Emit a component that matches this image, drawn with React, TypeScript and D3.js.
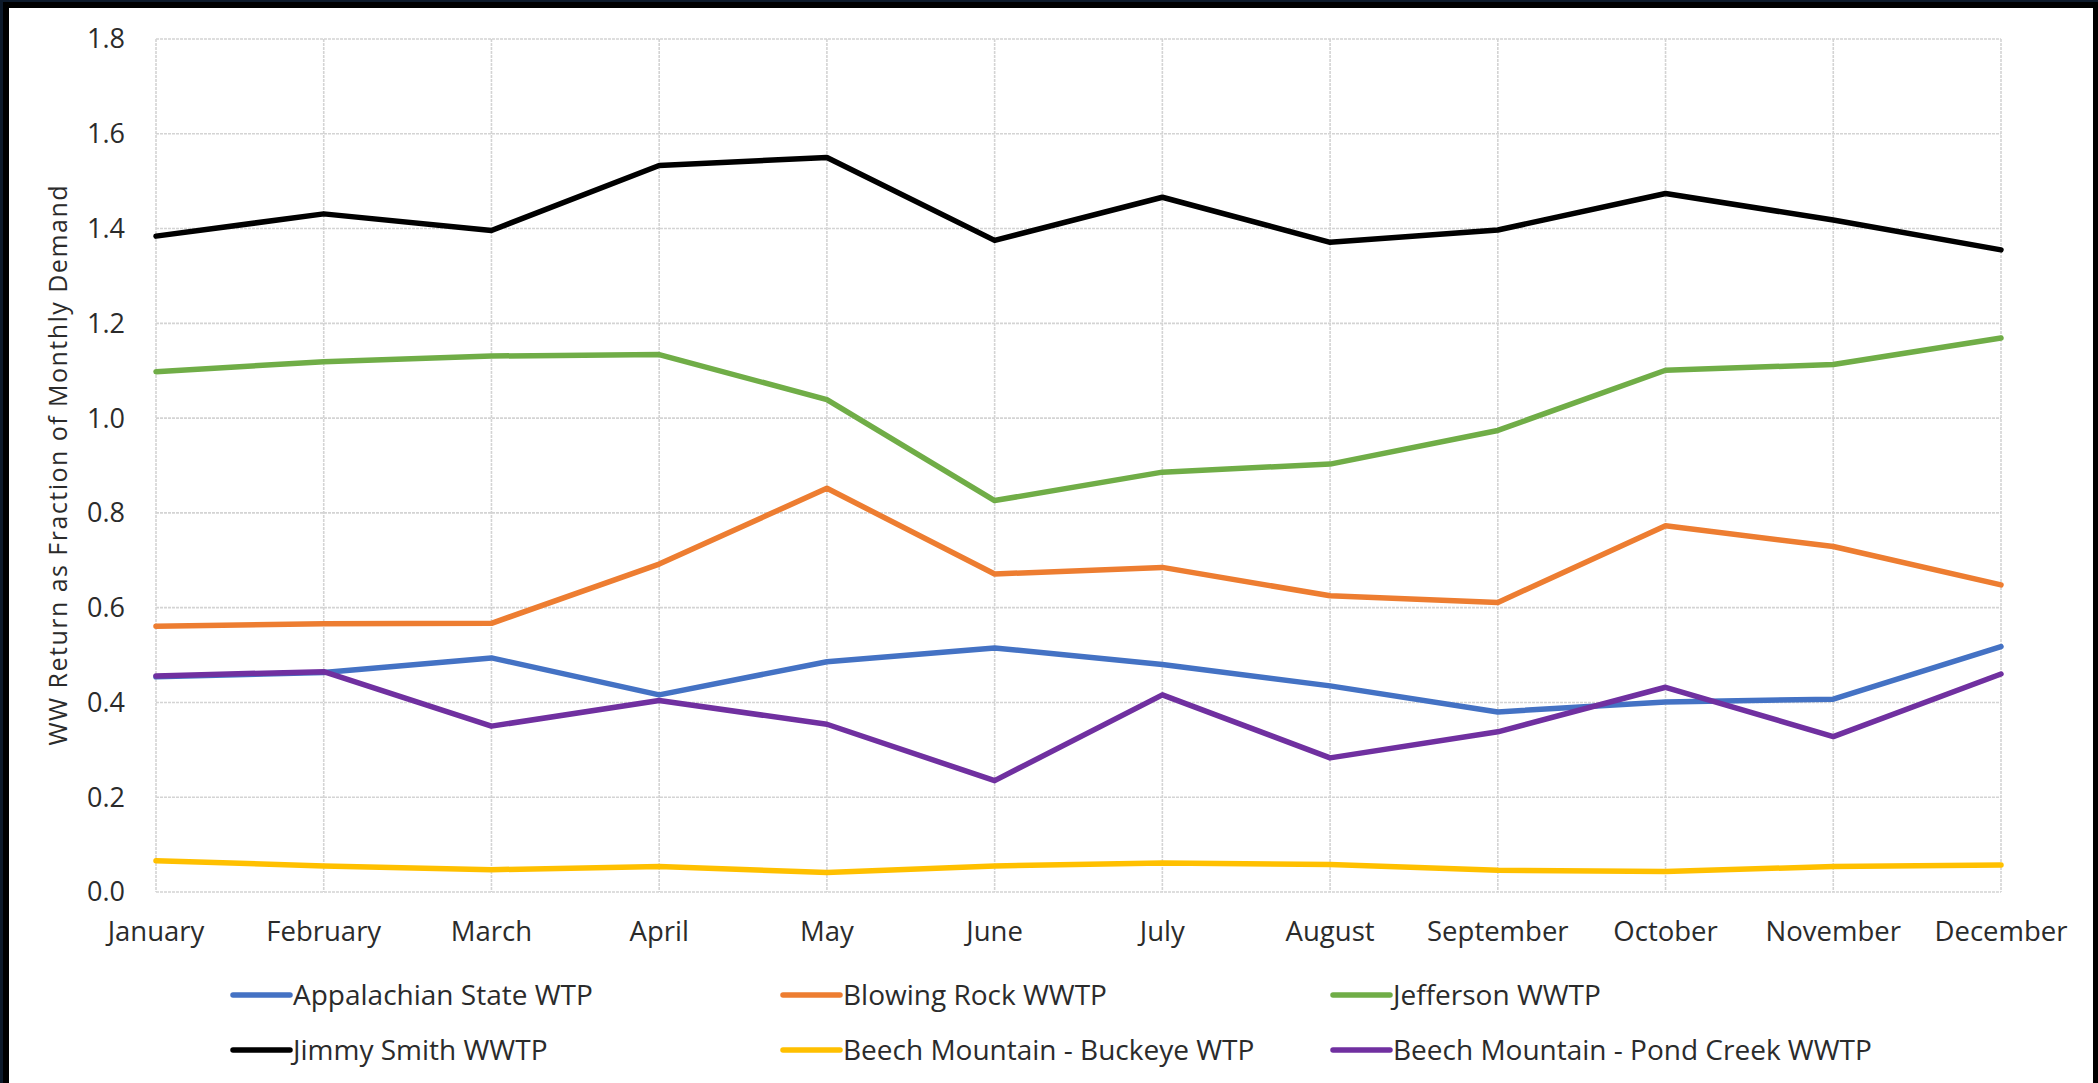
import React, { useEffect } from "react";
import * as d3 from "d3";

// Month categories along the x axis
const months = [
  "January", "February", "March", "April", "May", "June",
  "July", "August", "September", "October", "November", "December",
];

// Y axis tick values
const yTicks = [0, 0.2, 0.4, 0.6, 0.8, 1.0, 1.2, 1.4, 1.6, 1.8];

// Monthly wastewater return as a fraction of monthly demand
const appalachianState = [0.454, 0.463, 0.494, 0.416, 0.486, 0.515, 0.480, 0.435, 0.380, 0.401, 0.407, 0.518];
const blowingRock = [0.561, 0.566, 0.567, 0.692, 0.852, 0.671, 0.685, 0.625, 0.611, 0.773, 0.729, 0.648];
const jefferson = [1.098, 1.119, 1.131, 1.134, 1.039, 0.826, 0.886, 0.903, 0.974, 1.101, 1.113, 1.169];
const jimmySmith = [1.384, 1.431, 1.396, 1.533, 1.550, 1.375, 1.466, 1.371, 1.397, 1.474, 1.418, 1.355];
const beechBuckeye = [0.066, 0.055, 0.047, 0.054, 0.041, 0.055, 0.061, 0.058, 0.046, 0.043, 0.054, 0.057];
const beechPondCreek = [0.456, 0.465, 0.350, 0.404, 0.354, 0.235, 0.416, 0.283, 0.338, 0.432, 0.328, 0.460];

// Series names and colours, in drawing order
const seriesNames = [
  "Appalachian State WTP",
  "Blowing Rock WWTP",
  "Jefferson WWTP",
  "Jimmy Smith WWTP",
  "Beech Mountain - Buckeye WTP",
  "Beech Mountain - Pond Creek WWTP",
];
const seriesColors = ["#4472C4", "#ED7D31", "#70AD47", "#000000", "#FFC000", "#7030A0"];
const seriesValues = [appalachianState, blowingRock, jefferson, jimmySmith, beechBuckeye, beechPondCreek];

const W = 2098;
const H = 1083;
const plot = { left: 156, right: 2001, top: 39, bottom: 892 };
const FONT = "'Open Sans', 'Liberation Sans', sans-serif";
const TEXT = "#2b2b2b";
const GRID = "#d4d4d4";

export default function App() {
  useEffect(() => {
    document.body.style.margin = "0";
    document.body.style.overflow = "hidden";
  }, []);

  const x = d3.scalePoint<string>().domain(months).range([plot.left, plot.right]);
  const y = d3.scaleLinear().domain([0, 1.8]).range([plot.bottom, plot.top]);

  const line = d3
    .line<number>()
    .x((_, i) => x(months[i]) as number)
    .y((v) => y(v));

  // legend layout: three columns, two rows
  const legendCols = [233, 783, 1333];
  const legendRows = [995, 1050];

  return (
    <svg
      width={W}
      height={H}
      viewBox={`0 0 ${W} ${H}`}
      style={{ position: "absolute", left: 0, top: 0, display: "block" }}
    >
      {/* frame */}
      <rect x={0} y={0} width={W} height={H} fill="#0d1a2b" />
      <rect x={3} y={2} width={W - 3} height={H - 2} fill="#000" />
      <rect x={9} y={8} width={2093 - 9} height={H - 8} fill="#fff" />

      {/* horizontal gridlines */}
      {yTicks.map((t) => (
        <line
          key={`h${t}`}
          x1={plot.left}
          x2={plot.right}
          y1={y(t)}
          y2={y(t)}
          stroke={GRID}
          strokeWidth={1.6}
          strokeDasharray="3 1"
        />
      ))}
      {/* vertical gridlines at each month */}
      {months.map((m) => (
        <line
          key={`v${m}`}
          x1={x(m)}
          x2={x(m)}
          y1={plot.top}
          y2={plot.bottom}
          stroke={GRID}
          strokeWidth={1.6}
          strokeDasharray="3 1"
        />
      ))}

      {/* y tick labels */}
      {yTicks.map((t) => (
        <text
          key={`yl${t}`}
          x={125}
          y={y(t)}
          dy="0.35em"
          textAnchor="end"
          fontFamily={FONT}
          fontSize={27}
          fill={TEXT}
        >
          {d3.format(".1f")(t)}
        </text>
      ))}

      {/* x tick labels */}
      {months.map((m) => (
        <text
          key={`xl${m}`}
          x={x(m)}
          y={941}
          textAnchor="middle"
          fontFamily={FONT}
          fontSize={27.5}
          fill={TEXT}
        >
          {m}
        </text>
      ))}

      {/* y axis title */}
      <text
        transform={`translate(67, ${(plot.top + plot.bottom) / 2}) rotate(-90)`}
        textAnchor="middle"
        fontFamily={FONT}
        fontSize={25}
        fill={TEXT}
        textLength={560}
        lengthAdjust="spacing"
      >
        WW Return as Fraction of Monthly Demand
      </text>

      {/* series lines */}
      {seriesValues.map((vals, i) => (
        <path
          key={seriesNames[i]}
          d={line(vals) ?? ""}
          fill="none"
          stroke={seriesColors[i]}
          strokeWidth={5.5}
          strokeLinejoin="round"
          strokeLinecap="round"
        />
      ))}

      {/* legend */}
      {seriesNames.map((name, i) => {
        const lx = legendCols[i % 3];
        const ly = legendRows[Math.floor(i / 3)];
        return (
          <g key={`lg${name}`}>
            <line
              x1={lx}
              x2={lx + 57}
              y1={ly}
              y2={ly}
              stroke={seriesColors[i]}
              strokeWidth={5.5}
              strokeLinecap="round"
            />
            <text
              x={lx + 60}
              y={ly}
              dy="0.36em"
              fontFamily={FONT}
              fontSize={28}
              fill={TEXT}
            >
              {name}
            </text>
          </g>
        );
      })}
    </svg>
  );
}
